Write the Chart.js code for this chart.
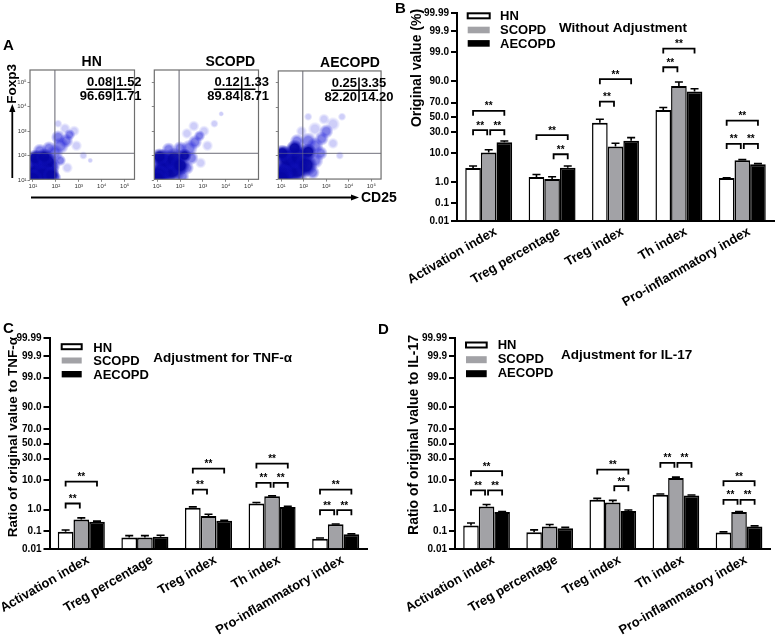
<!DOCTYPE html>
<html><head><meta charset="utf-8">
<script src="https://cdn.jsdelivr.net/npm/chart.js@4.4.1/dist/chart.umd.min.js"></script>
<style>
html,body{margin:0;padding:0;background:#fff;}
body{width:778px;height:637px;position:relative;overflow:hidden;font-family:"Liberation Sans",Arial,sans-serif;}
canvas{position:absolute;}
.lbl{position:absolute;font-weight:bold;color:#000;white-space:nowrap;line-height:1;}
svg{position:absolute;left:0;top:0;pointer-events:none;}
</style></head><body>
<canvas id="fHN" width="141" height="140" style="left:8px;top:55px"></canvas>
<canvas id="fSCOPD" width="141" height="140" style="left:132px;top:55px"></canvas>
<canvas id="fAECOPD" width="141" height="140" style="left:256px;top:55px"></canvas>
<canvas id="cB" width="398" height="312" style="left:380px;top:0px"></canvas>
<canvas id="cC" width="390" height="337" style="left:0px;top:300px"></canvas>
<canvas id="cD" width="408" height="337" style="left:370px;top:300px"></canvas>
<svg width="778" height="637">
  <line x1="12.3" y1="178" x2="12.3" y2="111" stroke="#000" stroke-width="1.8"/>
  <polygon points="12.3,104 9.2,112 15.4,112" fill="#000"/>
  <line x1="31" y1="197.5" x2="352" y2="197.5" stroke="#000" stroke-width="1.8"/>
  <polygon points="359,197.5 351,194.4 351,200.6" fill="#000"/>
</svg>
<div class="lbl" style="left:3px;top:37px;font-size:15px">A</div>
<div class="lbl" style="left:-8px;top:77px;font-size:13.5px;width:40px;text-align:center;transform:rotate(-90deg)">Foxp3</div>
<div class="lbl" style="left:361px;top:190px;font-size:14px">CD25</div>
<script>
// ---------------- data ----------------
const categories = ["Activation index", "Treg percentage", "Treg index", "Th index", "Pro-inflammatory index"];
const groupNames = ["HN", "SCOPD", "AECOPD"];
const yTickValues = [0.01, 0.1, 1, 10, 30, 50, 70, 90, 99, 99.9, 99.99];
const yTickLabels = ["0.01", "0.1", "1.0", "10.0", "30.0", "50.0", "70.0", "90.0", "99.0", "99.9", "99.99"];

// Panel B: original value (%)
const origHN = [3.4, 1.6, 42.0, 60.0, 1.45];
const origSCOPD = [10.2, 1.35, 14.6, 86.8, 6.1];
const origAECOPD = [18.4, 3.5, 20.0, 82.0, 4.55];
const origHNSem = [0.6, 0.4, 5.0, 3.6, 0.05];
const origSCOPDSem = [1.9, 0.3, 2.9, 2.8, 0.3];
const origAECOPDSem = [1.3, 0.5, 3.2, 2.6, 0.25];
// [category, group from, group to, bracket level]
const origBrackets = [[0,0,2,59],[0,0,1,32],[0,1,2,32],[1,0,2,26],[1,1,2,9.2],[2,0,2,91.3],[2,0,1,71],[3,0,2,99.3],[3,0,1,96.3],[4,0,2,45],[4,0,1,16.9],[4,1,2,16.9]];

// Panel C: ratio to TNF-alpha
const tnfHN = [0.097, 0.047, 1.19, 1.76, 0.041];
const tnfSCOPD = [0.38, 0.048, 0.54, 3.2, 0.225];
const tnfAECOPD = [0.30, 0.052, 0.33, 1.30, 0.071];
const tnfHNSem = [0.021, 0.013, 0.11, 0.16, 0.004];
const tnfSCOPDSem = [0.07, 0.012, 0.11, 0.1, 0.01];
const tnfAECOPDSem = [0.02, 0.011, 0.02, 0.06, 0.004];
const tnfBrackets = [[0,0,2,9.1],[0,0,1,1.76],[2,0,2,19],[2,0,1,5.3],[3,0,2,24.2],[3,0,1,8.4],[3,1,2,8.4],[4,0,2,5.3],[4,0,1,0.96],[4,1,2,0.96]];

// Panel D: ratio to IL-17
const il17HN = [0.197, 0.09, 2.42, 3.6, 0.087];
const il17SCOPD = [1.36, 0.175, 1.92, 11.4, 0.80];
const il17AECOPD = [0.80, 0.146, 0.88, 3.4, 0.175];
const il17HNSem = [0.063, 0.03, 0.28, 0.2, 0.008];
const il17SCOPDSem = [0.26, 0.045, 0.38, 0.5, 0.05];
const il17AECOPDSem = [0.05, 0.014, 0.1, 0.15, 0.015];
const il17Brackets = [[0,0,2,16.6],[0,0,1,5.0],[0,1,2,5.0],[2,0,2,18.1],[2,1,2,6.7],[3,0,1,25],[3,1,2,25],[4,0,2,9.3],[4,0,1,2.4],[4,1,2,2.4]];

// Panel A: flow cytometry (CD25 vs Foxp3)
const flowTickValues = [10, 100, 1000, 10000, 100000];
const flowTickLabels = ["10\u00B9", "10\u00B2", "10\u00B3", "10\u2074", "10\u2075"];
const flowGateCD25 = 91;
const flowGateFoxp3 = 123;
const flowQuadHN = [0.08, 1.52, 96.69, 1.71];
const flowQuadSCOPD = [0.12, 1.33, 89.84, 8.71];
const flowQuadAECOPD = [0.25, 3.35, 82.20, 14.20];
// event clouds: [log10 CD25, log10 Foxp3, spread]
const flowHNDense = [[1.3,1.4,10],[1.6,1.4,9],[1.25,1.75,8],[1.65,1.75,7],[1.05,1.25,8],[1.45,1.15,9],[1.8,1.2,6],[1.1,1.9,6],[1.5,1.95,6],[1.0,1.05,7]];
const flowHNMid = [[1.95,2.1,6],[2.2,2.4,6],[2.45,2.6,5],[2.1,2.75,5],[2.6,2.85,4],[1.9,1.6,5],[2.2,1.8,4],[1.7,2.3,5],[1.3,2.2,5],[2.0,1.1,4]];
const flowHNSparse = [[2.8,3.0,4],[2.4,3.1,4],[2.9,2.4,4],[3.2,2.0,3],[2.5,1.5,4],[3.5,1.8,2],[2.1,3.3,3]];
const flowSCOPDDense = [[1.3,1.4,10],[1.65,1.45,10],[1.3,1.8,8],[1.75,1.85,8],[2.0,1.6,7],[1.05,1.2,8],[2.2,2.0,5],[1.1,1.95,6],[1.0,1.05,7]];
const flowSCOPDMid = [[2.3,1.5,5],[2.4,2.3,6],[2.65,2.55,5],[2.85,2.8,4],[2.5,1.9,5],[2.0,2.3,5],[1.5,2.25,5],[2.1,1.15,5]];
const flowSCOPDSparse = [[3.05,3.0,4],[2.6,3.2,4],[3.2,2.4,4],[2.9,1.7,4],[3.5,3.3,3],[2.3,2.9,4],[3.8,3.7,2]];
const flowAECOPDDense = [[1.3,1.4,11],[1.7,1.45,10],[1.3,1.9,9],[1.8,1.95,9],[2.1,1.6,8],[1.05,1.2,8],[2.2,2.15,6],[1.05,2.1,6],[1.6,2.3,6],[1.0,1.05,8]];
const flowAECOPDMid = [[2.5,1.8,6],[2.5,2.4,6],[2.8,2.7,5],[2.2,2.6,6],[3.0,3.0,5],[2.75,2.1,5],[2.4,1.3,5],[1.7,2.6,5]];
const flowAECOPDSparse = [[3.3,3.3,5],[2.9,3.5,4],[3.3,2.5,4],[2.5,3.1,5],[3.7,3.6,3],[1.9,3.0,4],[3.6,2.0,3],[2.2,3.6,3]];

// ---------------- helpers ----------------
const FONT = "'Liberation Sans', Arial, sans-serif";
Chart.defaults.font.family = FONT;
Chart.defaults.color = '#000';

function probit(p) {
  const a=[-3.969683028665376e+01,2.209460984245205e+02,-2.759285104469687e+02,1.383577518672690e+02,-3.066479806614716e+01,2.506628277459239e+00];
  const b=[-5.447609879822406e+01,1.615858368580409e+02,-1.556989798598866e+02,6.680131188771972e+01,-1.328068155288572e+01];
  const c=[-7.784894002430293e-03,-3.223964580411365e-01,-2.400758277161838e+00,-2.549732539343734e+00,4.374664141464968e+00,2.938163982698783e+00];
  const d=[7.784695709041462e-03,3.224671290700398e-01,2.445134137142996e+00,3.754408661907416e+00];
  const pl=0.02425, ph=1-pl; let q, r;
  if (p < pl) { q=Math.sqrt(-2*Math.log(p)); return (((((c[0]*q+c[1])*q+c[2])*q+c[3])*q+c[4])*q+c[5])/((((d[0]*q+d[1])*q+d[2])*q+d[3])*q+1); }
  if (p <= ph) { q=p-0.5; r=q*q; return (((((a[0]*r+a[1])*r+a[2])*r+a[3])*r+a[4])*r+a[5])*q/(((((b[0]*r+b[1])*r+b[2])*r+b[3])*r+b[4])*r+1); }
  q=Math.sqrt(-2*Math.log(1-p)); return -(((((c[0]*q+c[1])*q+c[2])*q+c[3])*q+c[4])*q+c[5])/((((d[0]*q+d[1])*q+d[2])*q+d[3])*q+1);
}
const pz = v => probit(v / 100);
const Y_MIN = pz(0.01), Y_MAX = pz(99.99);
const groupFill = ['#ffffff', '#a2a2a6', '#000000'];

function barChart(id, cv, area, series, sems, brackets, deco) {
  const datasets = series.map((s, i) => ({
    label: groupNames[i],
    data: s.map(pz),
    backgroundColor: groupFill[i],
    borderColor: '#000',
    borderWidth: {top: 2, left: 1.5, right: 1.5, bottom: 0},
    borderSkipped: false,
    base: Y_MIN,
    barPercentage: 1.0,
    categoryPercentage: 0.74
  }));
  const plugin = {
    id: 'extras' + id,
    afterDatasetsDraw(chart) {
      const ctx = chart.ctx, ys = chart.scales.y;
      ctx.save();
      ctx.strokeStyle = '#000'; ctx.lineWidth = 1.6;
      series.forEach((s, i) => {
        const meta = chart.getDatasetMeta(i);
        s.forEach((v, j) => {
          const bar = meta.data[j];
          const yt = ys.getPixelForValue(pz(v + sems[i][j]));
          ctx.beginPath();
          ctx.moveTo(bar.x, bar.y); ctx.lineTo(bar.x, yt);
          ctx.moveTo(bar.x - 4, yt); ctx.lineTo(bar.x + 4, yt);
          ctx.stroke();
        });
      });
      ctx.lineWidth = 1.8;
      ctx.font = 'bold 10px ' + FONT; ctx.textAlign = 'center'; ctx.textBaseline = 'alphabetic'; ctx.fillStyle = '#000';
      brackets.forEach(([cat, a, b, lvl]) => {
        let x1 = chart.getDatasetMeta(a).data[cat].x, x2 = chart.getDatasetMeta(b).data[cat].x;
        if (a === 1) x1 += 1.5;
        if (b === 1) x2 -= 1.5;
        const y = ys.getPixelForValue(pz(lvl));
        ctx.beginPath();
        ctx.moveTo(x1, y + 5); ctx.lineTo(x1, y); ctx.lineTo(x2, y); ctx.lineTo(x2, y + 5);
        ctx.stroke();
        ctx.fillText('**', (x1 + x2) / 2, y - 1.5);
      });
      ctx.restore();
    },
    afterDraw(chart) {
      const ctx = chart.ctx, ox = cv.left, oy = cv.top;
      ctx.save(); ctx.fillStyle = '#000';
      ctx.textBaseline = 'middle';
      ctx.font = 'bold 15px ' + FONT; ctx.textAlign = 'left';
      ctx.fillText(deco.letter, deco.letterX - ox, deco.letterY - oy);
      ctx.save();
      ctx.translate(deco.yTitleX - ox, deco.yTitleY - oy); ctx.rotate(-Math.PI / 2);
      ctx.font = 'bold ' + deco.yTitleSize + 'px ' + FONT; ctx.textAlign = 'center';
      ctx.fillText(deco.yTitle, 0, 0);
      ctx.restore();
      ctx.font = 'bold 13px ' + FONT; ctx.textAlign = 'left';
      groupNames.forEach((g, i) => {
        const bx = deco.boxX - ox, by = deco.boxY[i] - oy, h = deco.boxH[i];
        if (i === 0) {
          ctx.fillStyle = '#fff'; ctx.fillRect(bx, by - h / 2, deco.boxW, h);
          ctx.strokeStyle = '#000'; ctx.lineWidth = 2; ctx.strokeRect(bx, by - h / 2, deco.boxW, h);
        } else {
          ctx.fillStyle = groupFill[i]; ctx.fillRect(bx, by - h / 2, deco.boxW, h);
        }
        ctx.fillStyle = '#000';
        ctx.fillText(g, deco.textX - ox, deco.textY[i] - oy);
      });
      ctx.font = 'bold 13.5px ' + FONT;
      ctx.fillText(deco.title, deco.titleX - ox, deco.titleY - oy);
      ctx.restore();
    }
  };
  return new Chart(document.getElementById(id), {
    type: 'bar',
    data: { labels: categories, datasets },
    options: {
      responsive: false, animation: false,
      layout: { padding: { top: area.top - cv.top, right: cv.left + cv.width - area.right, left: 0, bottom: 0 } },
      plugins: { legend: { display: false }, tooltip: { enabled: false } },
      scales: {
        x: {
          type: 'category', offset: true,
          grid: { display: false },
          border: { display: true, color: '#000', width: 2 },
          ticks: { font: { weight: 'bold', size: 13 }, color: '#000', minRotation: 30, maxRotation: 30, autoSkip: false, padding: -5, labelOffset: 7 },
          afterFit(s) { s.height = cv.top + cv.height - area.bottom; s.paddingLeft = 0; s.paddingRight = 0; }
        },
        y: {
          type: 'linear', min: Y_MIN, max: Y_MAX,
          afterBuildTicks(s) { s.ticks = yTickValues.map(v => ({ value: pz(v) })); },
          ticks: { callback: (v, i) => yTickLabels[i], font: { weight: 'bold', size: 10 }, color: '#000', padding: 2, autoSkip: false },
          grid: { drawOnChartArea: false, drawTicks: true, tickLength: 6, color: '#000', lineWidth: 2 },
          border: { display: true, color: '#000', width: 2 },
          afterFit(s) { s.width = area.left - cv.left; s.paddingTop = 0; s.paddingBottom = 0; }
        }
      }
    },
    plugins: [plugin]
  });
}

barChart('cB', {left: 380, top: 0, width: 398, height: 312}, {left: 457, top: 13.3, right: 774, bottom: 221},
  [origHN, origSCOPD, origAECOPD], [origHNSem, origSCOPDSem, origAECOPDSem], origBrackets,
  {letter: 'B', letterX: 395, letterY: 8.5, yTitle: 'Original value (%)', yTitleSize: 14, yTitleX: 416.7, yTitleY: 68,
   boxX: 467.7, boxW: 22, boxY: [15.8, 30, 43.4], boxH: [5, 6.6, 6.6], textX: 500, textY: [16, 30.5, 44.5],
   title: 'Without Adjustment', titleX: 559, titleY: 28.5});

barChart('cC', {left: 0, top: 300, width: 390, height: 337}, {left: 49.5, top: 338, right: 367.5, bottom: 549.3},
  [tnfHN, tnfSCOPD, tnfAECOPD], [tnfHNSem, tnfSCOPDSem, tnfAECOPDSem], tnfBrackets,
  {letter: 'C', letterX: 3, letterY: 329, yTitle: 'Ratio of original value to TNF-\u03B1', yTitleSize: 13.5, yTitleX: 13.5, yTitleY: 437,
   boxX: 61.7, boxW: 20, boxY: [346.7, 360.5, 374.2], boxH: [5, 6, 6.4], textX: 93.3, textY: [348.3, 361.7, 375],
   title: 'Adjustment for TNF-\u03B1', titleX: 153.3, titleY: 358.3});

barChart('cD', {left: 370, top: 300, width: 408, height: 337}, {left: 455, top: 338, right: 770.6, bottom: 549.3},
  [il17HN, il17SCOPD, il17AECOPD], [il17HNSem, il17SCOPDSem, il17AECOPDSem], il17Brackets,
  {letter: 'D', letterX: 378, letterY: 330, yTitle: 'Ratio of original value to IL-17', yTitleSize: 14, yTitleX: 414, yTitleY: 435,
   boxX: 466, boxW: 20.7, boxY: [345, 359.7, 373.7], boxH: [5, 7, 7], textX: 497.7, textY: [345.5, 359.5, 373.5],
   title: 'Adjustment for IL-17', titleX: 561, titleY: 355.5});

// ---------------- flow plots ----------------
function blob(inner, outer) {
  return (ctx) => {
    if (ctx.type !== 'data' || !ctx.raw) return inner;
    const ch = ctx.chart, xs = ch.scales.x, ys = ch.scales.y;
    const px = xs.getPixelForValue(ctx.raw.x), py = ys.getPixelForValue(ctx.raw.y), r = Math.max(ctx.raw.r, 1);
    if (!isFinite(px) || !isFinite(py)) return inner;
    const g = ch.ctx.createRadialGradient(px, py, 0, px, py, r);
    g.addColorStop(0, inner); g.addColorStop(0.5, inner); g.addColorStop(1, outer);
    return g;
  };
}
function flowChart(id, cv, box, quad, dense, mid, sparse, name, titleDx, dividerDx, showY) {
  const toPts = arr => arr.map(p => ({ x: Math.pow(10, p[0]), y: Math.pow(10, p[1]), r: p[2] * 1.45 }));
  const plugin = {
    id: 'flow' + id,
    beforeDatasetsDraw(chart) {
      const { ctx, chartArea: ca, scales } = chart;
      ctx.save();
      ctx.strokeStyle = '#8a8a8a'; ctx.lineWidth = 1;
      const gx = scales.x.getPixelForValue(flowGateCD25), gy = scales.y.getPixelForValue(flowGateFoxp3);
      ctx.beginPath();
      ctx.moveTo(gx, ca.top); ctx.lineTo(gx, ca.bottom);
      ctx.moveTo(ca.left, gy); ctx.lineTo(ca.right, gy);
      ctx.stroke();
      ctx.restore();
    },
    afterDatasetsDraw(chart) {
      const { ctx, chartArea: ca, scales } = chart;
      ctx.save();
      ctx.strokeStyle = 'rgba(120,120,140,0.55)'; ctx.lineWidth = 1;
      const gx = scales.x.getPixelForValue(flowGateCD25), gy = scales.y.getPixelForValue(flowGateFoxp3);
      ctx.beginPath();
      ctx.moveTo(gx, ca.top); ctx.lineTo(gx, ca.bottom);
      ctx.moveTo(ca.left, gy); ctx.lineTo(ca.right, gy);
      ctx.stroke();
      ctx.restore();
    },
    afterDraw(chart) {
      const { ctx, chartArea: ca } = chart;
      ctx.save();
      ctx.strokeStyle = '#6e6e6e'; ctx.lineWidth = 1.2;
      ctx.strokeRect(ca.left, ca.top, ca.right - ca.left, ca.bottom - ca.top);
      ctx.fillStyle = '#000';
      ctx.font = 'bold 14px ' + FONT; ctx.textAlign = 'center'; ctx.textBaseline = 'middle';
      ctx.fillText(name, ca.left + titleDx, ca.top - 7.5);
      const dx = ca.left + dividerDx;
      ctx.font = 'bold 13px ' + FONT;
      const f = v => v.toFixed(2);
      ctx.textAlign = 'right';
      ctx.fillText(f(quad[0]), dx - 2, ca.top + 12);
      ctx.fillText(f(quad[2]), dx - 2, ca.top + 26);
      ctx.textAlign = 'left';
      ctx.fillText(f(quad[1]), dx + 2, ca.top + 12);
      ctx.fillText(f(quad[3]), dx + 2, ca.top + 26);
      ctx.strokeStyle = '#000'; ctx.lineWidth = 1.5;
      ctx.beginPath();
      ctx.moveTo(dx - 28, ca.top + 19.3); ctx.lineTo(ca.right - 3, ca.top + 19.3);
      ctx.moveTo(dx, ca.top + 6.5); ctx.lineTo(dx, ca.top + 31);
      ctx.stroke();
      ctx.restore();
    }
  };
  return new Chart(document.getElementById(id), {
    type: 'bubble',
    data: { datasets: [
      { data: toPts(dense), backgroundColor: blob('rgba(6,6,165,0.95)', 'rgba(20,20,200,0)'), borderWidth: 0, clip: 0 },
      { data: toPts(mid), backgroundColor: blob('rgba(25,25,215,0.55)', 'rgba(40,40,225,0)'), borderWidth: 0, clip: 0 },
      { data: toPts(sparse), backgroundColor: blob('rgba(60,60,230,0.25)', 'rgba(80,80,235,0)'), borderWidth: 0, clip: 0 }
    ]},
    options: {
      responsive: false, animation: false,
      layout: { padding: { top: box.top - cv.top, right: cv.left + cv.width - box.right, left: 0, bottom: 0 } },
      plugins: { legend: { display: false }, tooltip: { enabled: false } },
      scales: {
        x: {
          type: 'logarithmic', min: Math.pow(10, 0.874), max: Math.pow(10, 5.43),
          afterBuildTicks(s) { s.ticks = flowTickValues.map(v => ({ value: v })); },
          ticks: { callback: (v, i) => flowTickLabels[i], font: { size: 6 }, color: '#333', padding: 1, autoSkip: false, maxRotation: 0 },
          grid: { drawOnChartArea: false, tickLength: 2.5, color: '#888', lineWidth: 1 },
          border: { display: false },
          afterFit(s) { s.height = cv.top + cv.height - box.bottom; s.paddingLeft = 0; s.paddingRight = 0; }
        },
        y: {
          type: 'logarithmic', min: Math.pow(10, 1.03), max: Math.pow(10, 5.49),
          afterBuildTicks(s) { s.ticks = flowTickValues.map(v => ({ value: v })); },
          ticks: { display: showY, callback: (v, i) => flowTickLabels[i], font: { size: 6 }, color: '#333', padding: 1, autoSkip: false },
          grid: { drawOnChartArea: false, tickLength: 2.5, color: '#888', lineWidth: 1 },
          border: { display: false },
          afterFit(s) { s.width = box.left - cv.left; s.paddingTop = 0; s.paddingBottom = 0; }
        }
      }
    },
    plugins: [plugin]
  });
}

flowChart('fHN', {left: 8, top: 55, width: 141, height: 140}, {left: 30, top: 70, right: 149, bottom: 179.3},
  flowQuadHN, flowHNDense, flowHNMid, flowHNSparse, 'HN', 61.7, 84.3, true);
flowChart('fSCOPD', {left: 132, top: 55, width: 141, height: 140}, {left: 154.3, top: 70, right: 273, bottom: 179.3},
  flowQuadSCOPD, flowSCOPDDense, flowSCOPDMid, flowSCOPDSparse, 'SCOPD', 76, 87.4, false);
flowChart('fAECOPD', {left: 256, top: 55, width: 141, height: 140}, {left: 278.3, top: 70, right: 397, bottom: 179.3},
  flowQuadAECOPD, flowAECOPDDense, flowAECOPDMid, flowAECOPDSparse, 'AECOPD', 71.7, 80.7, false);
</script>
</body></html>
